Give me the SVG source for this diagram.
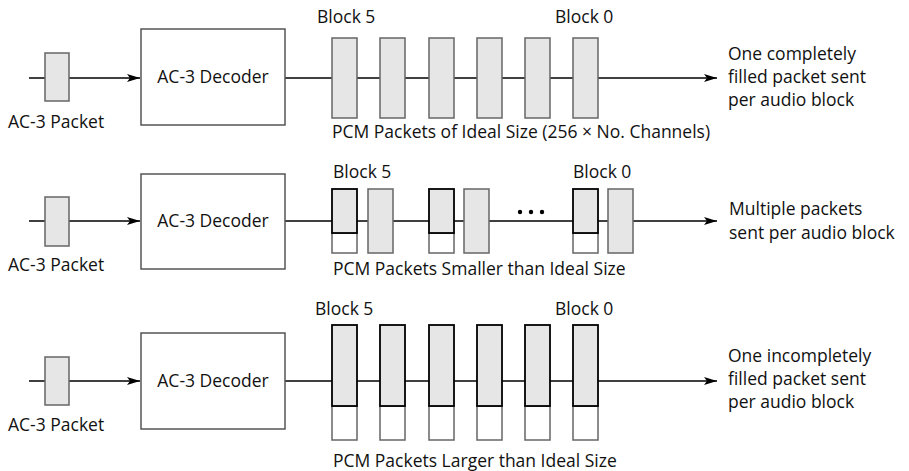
<svg xmlns="http://www.w3.org/2000/svg" width="909" height="471" viewBox="0 0 909 471">
<defs>
<marker id="arr" markerWidth="14" markerHeight="10" refX="13" refY="4" orient="auto" markerUnits="userSpaceOnUse">
<path d="M0,0 L13,4 L0,8 L3,4 Z" fill="#000"/>
</marker>
<style>
text{font-family:"Open Sans","Liberation Sans",sans-serif;font-size:17.5px;fill:#111}
.ln{stroke:#000;stroke-width:1.3;fill:none}
.pk{fill:#e6e6e6;stroke:#666;stroke-width:1.5}
.pkb{fill:#e6e6e6;stroke:#000;stroke-width:1.8}
.emp{fill:#fff;stroke:#666;stroke-width:1.5}
.dec{fill:#fff;stroke:#555;stroke-width:1.5}
.dot{fill:#000}
</style>
</defs>

<g id="connectors">
<line class="ln" x1="29" y1="78" x2="140" y2="78" marker-end="url(#arr)"/>
<line class="ln" x1="285" y1="78" x2="717" y2="78" marker-end="url(#arr)"/>
<line class="ln" x1="29" y1="221" x2="140" y2="221" marker-end="url(#arr)"/>
<line class="ln" x1="285" y1="221" x2="717" y2="221" marker-end="url(#arr)"/>
<line class="ln" x1="29" y1="381" x2="140" y2="381" marker-end="url(#arr)"/>
<line class="ln" x1="285" y1="381" x2="717" y2="381" marker-end="url(#arr)"/>
</g>

<!-- Row 1 -->
<g id="ac3packet1">
<rect class="pk" x="45" y="53" width="24" height="48"/>
<text x="8" y="128">AC-3 Packet</text>
</g>
<g id="decoder1">
<rect class="dec" x="141" y="29" width="144" height="96"/>
<text x="213" y="83" text-anchor="middle">AC-3 Decoder</text>
</g>
<g id="pcm1">
<text x="317" y="23">Block 5</text>
<text x="555" y="23">Block 0</text>
<rect class="pk" x="332" y="38" width="25" height="80"/>
<rect class="pk" x="380" y="38" width="25" height="80"/>
<rect class="pk" x="429" y="38" width="25" height="80"/>
<rect class="pk" x="477" y="38" width="25" height="80"/>
<rect class="pk" x="525" y="38" width="25" height="80"/>
<rect class="pk" x="573" y="38" width="25" height="80"/>
<text x="332" y="138">PCM Packets of Ideal Size (256 × No. Channels)</text>
</g>
<g id="result1">
<text x="728" y="60">One completely</text>
<text x="728" y="83">filled packet sent</text>
<text x="728" y="106">per audio block</text>
</g>

<!-- Row 2 -->
<g id="ac3packet2">
<rect class="pk" x="45" y="197" width="24" height="49"/>
<text x="8" y="271">AC-3 Packet</text>
</g>
<g id="decoder2">
<rect class="dec" x="141" y="174" width="144" height="95"/>
<text x="213" y="227" text-anchor="middle">AC-3 Decoder</text>
</g>
<g id="pcm2">
<text x="333" y="178">Block 5</text>
<text x="573" y="178">Block 0</text>
<rect class="emp" x="332" y="233" width="25" height="20"/>
<rect class="pkb" x="332" y="189" width="25" height="44"/>
<rect class="pk" x="368" y="189" width="25" height="64"/>
<rect class="emp" x="429" y="233" width="25" height="20"/>
<rect class="pkb" x="429" y="189" width="25" height="44"/>
<rect class="pk" x="464" y="189" width="25" height="64"/>
<circle class="dot" cx="520" cy="212" r="2.2"/>
<circle class="dot" cx="531" cy="212" r="2.2"/>
<circle class="dot" cx="542" cy="212" r="2.2"/>
<rect class="emp" x="573" y="233" width="25" height="20"/>
<rect class="pkb" x="573" y="189" width="25" height="44"/>
<rect class="pk" x="608" y="189" width="25" height="64"/>
<text x="333" y="275">PCM Packets Smaller than Ideal Size</text>
</g>
<g id="result2">
<text x="729" y="215">Multiple packets</text>
<text x="729" y="239">sent per audio block</text>
</g>

<!-- Row 3 -->
<g id="ac3packet3">
<rect class="pk" x="45" y="357" width="24" height="48"/>
<text x="8" y="431">AC-3 Packet</text>
</g>
<g id="decoder3">
<rect class="dec" x="141" y="333" width="144" height="96"/>
<text x="213" y="387" text-anchor="middle">AC-3 Decoder</text>
</g>
<g id="pcm3">
<text x="315" y="315">Block 5</text>
<text x="555" y="315">Block 0</text>
<rect class="emp" x="332" y="406" width="25" height="34"/>
<rect class="pkb" x="332" y="325" width="25" height="81"/>
<rect class="emp" x="380" y="406" width="25" height="34"/>
<rect class="pkb" x="380" y="325" width="25" height="81"/>
<rect class="emp" x="429" y="406" width="25" height="34"/>
<rect class="pkb" x="429" y="325" width="25" height="81"/>
<rect class="emp" x="477" y="406" width="25" height="34"/>
<rect class="pkb" x="477" y="325" width="25" height="81"/>
<rect class="emp" x="525" y="406" width="25" height="34"/>
<rect class="pkb" x="525" y="325" width="25" height="81"/>
<rect class="emp" x="573" y="406" width="25" height="34"/>
<rect class="pkb" x="573" y="325" width="25" height="81"/>
<text x="333" y="467">PCM Packets Larger than Ideal Size</text>
</g>
<g id="result3">
<text x="728" y="362">One incompletely</text>
<text x="728" y="385">filled packet sent</text>
<text x="728" y="408">per audio block</text>
</g>
</svg>
